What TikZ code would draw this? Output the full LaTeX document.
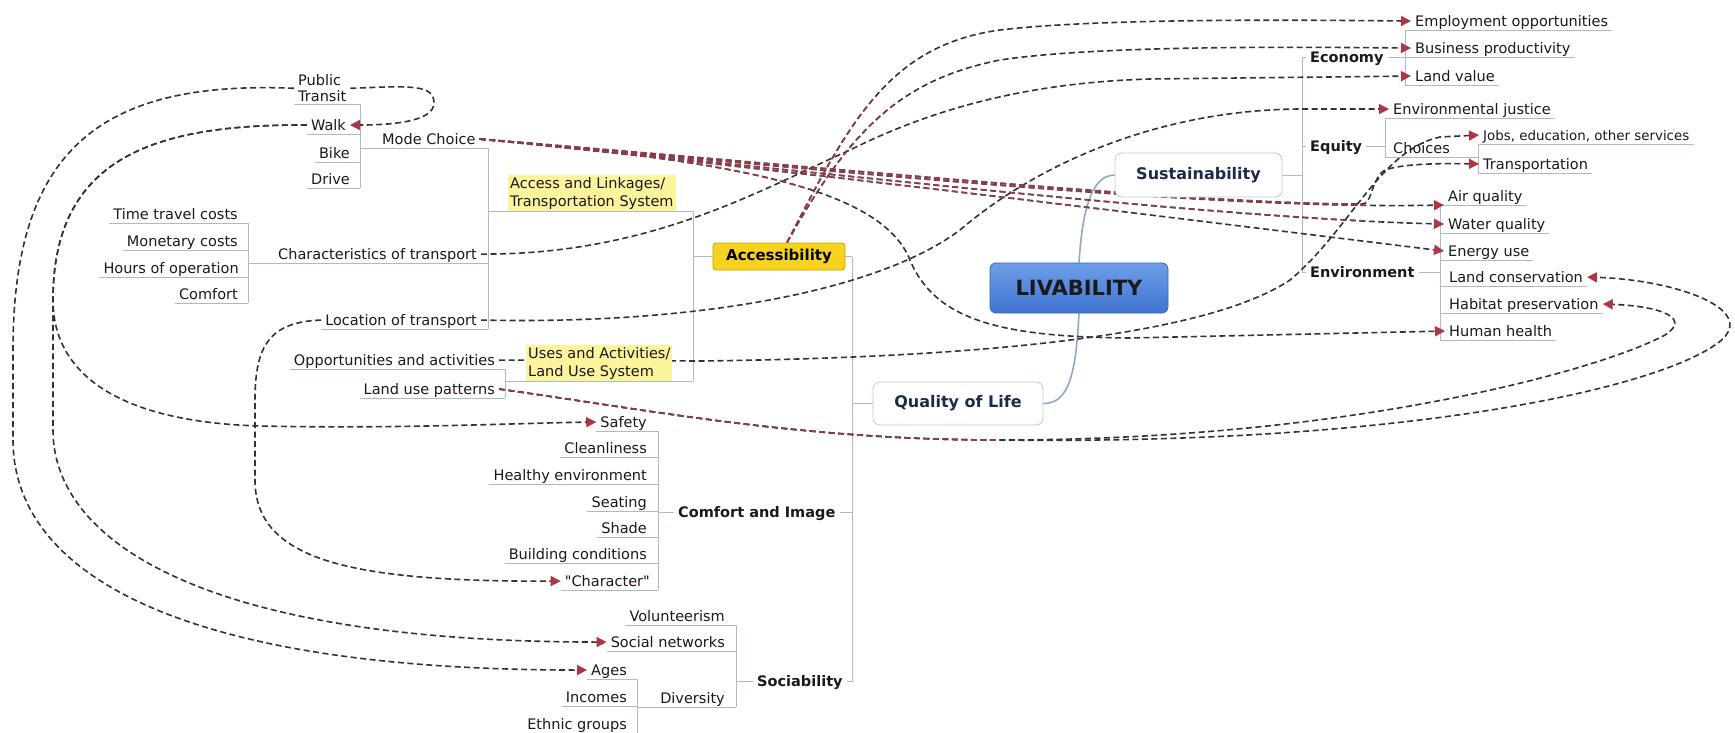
\documentclass[tikz,border=0pt]{standalone}
\usepackage{fontspec}
\setmainfont{DejaVu Sans}
\usetikzlibrary{arrows.meta}
\definecolor{relc}{HTML}{333333}
\definecolor{arrc}{HTML}{B03444}
\definecolor{bundc}{HTML}{8E3A48}
\definecolor{treec}{HTML}{A9BAD3}
\definecolor{hl}{HTML}{FBF49C}
\definecolor{accf}{HTML}{F7D21E}
\definecolor{accd}{HTML}{C9A200}
\definecolor{boxc}{HTML}{B9C9E0}
\definecolor{navy}{HTML}{1C2B4A}
\definecolor{txt}{HTML}{1A1A1A}
\definecolor{livt}{HTML}{6E9FE8}
\definecolor{livb}{HTML}{3F74D0}
\definecolor{livd}{HTML}{3565B5}
\definecolor{trunkc}{HTML}{8FA8CC}
\pgfdeclarelayer{bg}
\pgfsetlayers{bg,main}
\tikzset{
  tp/.style={font=\fontsize{14.5}{17}\selectfont, text=txt, inner xsep=4pt, inner ysep=3.5pt, text height=10.5pt, text depth=0pt},
  bt/.style={tp, font=\fontsize{14.5}{17}\selectfont\bfseries},
  ptx/.style={font=\fontsize{14.5}{16}\selectfont, text=txt, align=left, inner xsep=4pt, inner ysep=2pt},
  hlbox/.style={fill=hl, align=left, inner xsep=2pt, inner ysep=2pt, font=\fontsize{14.5}{18}\selectfont, text=txt},
  topbox/.style={draw=boxc, fill=white, rounded corners=7pt, line width=0.8pt, font=\fontsize{16}{18}\selectfont\bfseries, text=navy},
  treeline/.style={draw=treec, line width=0.8pt},
  trunk/.style={draw=trunkc, line width=1.6pt},
  rel/.style={draw=relc, line width=1.6pt, dash pattern=on 6pt off 3.5pt},
  bund/.style={draw=bundc, line width=1.6pt, dash pattern=on 6pt off 3.5pt},
  rtip/.style={-{Triangle[length=10pt,width=10pt,color=arrc]}},
}
\begin{document}
\begin{tikzpicture}[x=1pt,y=-1pt]
\useasboundingbox (0,0) rectangle (1735,733);

% ---------------- left: Access and Linkages ----------------
\node[ptx, anchor=north west] (public) at (294,72.5) {Public\\Transit};
\node[tp, anchor=south east] (walk) at (350,134) {Walk};
\node[tp, anchor=south east] (bike) at (354,162) {Bike};
\node[tp, anchor=south east] (drive) at (354,188) {Drive};
\node[tp, anchor=south west] (mode) at (378,148) {Mode Choice};
\node[tp, anchor=south east] (time) at (242,223) {Time travel costs};
\node[tp, anchor=south east] (money) at (242,250) {Monetary costs};
\node[tp, anchor=south east] (hours) at (243,277) {Hours of operation};
\node[tp, anchor=south east] (comfort) at (242,303) {Comfort};
\node[tp, anchor=south east] (char) at (481,263) {Characteristics of transport};
\node[tp, anchor=south east] (loc) at (481,329) {Location of transport};
\node[hlbox, anchor=north west] (acl) at (508,175) {Access and Linkages/\\Transportation System};
\node[hlbox, anchor=north west] (uses) at (526,345) {Uses and Activities/\\Land Use System};
\node[tp, anchor=south east] (opp) at (499,369) {Opportunities and activities};
\node[tp, anchor=south east] (landuse) at (499,398) {Land use patterns};
\node[draw=accd, fill=accf, line width=0.8pt, rounded corners=3pt, minimum width=132pt, minimum height=27pt, inner sep=2pt, font=\fontsize{15}{17}\selectfont\bfseries, text=black] (acc) at (779,256.5) {Accessibility};

% ---------------- Comfort and Image ----------------
\node[tp, anchor=south east] (safety) at (651,431) {Safety};
\node[tp, anchor=south east] (clean) at (651,457) {Cleanliness};
\node[tp, anchor=south east] (healthy) at (651,484) {Healthy environment};
\node[tp, anchor=south east] (seating) at (651,511) {Seating};
\node[tp, anchor=south east] (shade) at (651,537) {Shade};
\node[tp, anchor=south east] (building) at (651,563) {Building conditions};
\node[tp, anchor=south east] (character) at (654,590) {\textquotedbl Character\textquotedbl};
\node[bt, anchor=south west] (cimg) at (674,521.5) {Comfort and Image};

% ---------------- Sociability ----------------
\node[tp, anchor=south east] (volunteer) at (729,625) {Volunteerism};
\node[tp, anchor=south east] (social) at (729,651) {Social networks};
\node[tp, anchor=south east] (ages) at (631,679) {Ages};
\node[tp, anchor=south east] (incomes) at (631,706) {Incomes};
\node[tp, anchor=south east] (ethnic) at (631,733) {Ethnic groups};
\node[tp, anchor=south east] (div) at (729,707) {Diversity};
\node[bt, anchor=south west] (soc) at (753,690.5) {Sociability};

% ---------------- centre ----------------
\node[topbox, minimum width=170pt, minimum height=43pt] (qol) at (958,403.5) {Quality of Life};
\node[topbox, minimum width=167pt, minimum height=44pt] (sus) at (1198.5,175) {Sustainability};
\node[draw=livd, line width=0.8pt, rounded corners=6pt, top color=livt, bottom color=livb, minimum width=178pt, minimum height=50pt, font=\fontsize{21}{24}\selectfont\bfseries, text=txt] (liv) at (1079,288) {LIVABILITY};

% ---------------- right: Sustainability ----------------
\node[bt, anchor=south west] (econ) at (1306,66.5) {Economy};
\node[bt, anchor=south west] (equity) at (1306,155.5) {Equity};
\node[bt, anchor=south west] (env) at (1306,281.5) {Environment};
\node[tp, anchor=south west] (employ) at (1411,30) {Employment opportunities};
\node[tp, anchor=south west] (business) at (1411,57) {Business productivity};
\node[tp, anchor=south west] (landval) at (1411,85) {Land value};
\node[tp, anchor=south west] (envjust) at (1389,118) {Environmental justice};
\node[tp, anchor=south west] (choices) at (1389,157) {Choices};
\node[tp, anchor=south west, font=\fontsize{13.4}{16}\selectfont] (jobs) at (1479,144) {Jobs, education, other services};
\node[tp, anchor=south west] (transp) at (1479,173) {Transportation};
\node[tp, anchor=south west] (air) at (1444,205) {Air quality};
\node[tp, anchor=south west] (water) at (1444,233) {Water quality};
\node[tp, anchor=south west] (energy) at (1444,260) {Energy use};
\node[tp, anchor=south west] (landcons) at (1445,286) {Land conservation};
\node[tp, anchor=south west] (habitat) at (1445,313) {Habitat preservation};
\node[tp, anchor=south west] (health) at (1445,340) {Human health};

% bracket positions
\coordinate (bm) at (360,0);
\coordinate (bc) at (248,0);
\coordinate (ba) at (488,0);
\coordinate (bacc) at (693,0);
\coordinate (bu) at (505,0);
\coordinate (bq) at (852,0);
\coordinate (bci) at (658,0);
\coordinate (bs) at (736,0);
\coordinate (bd) at (637,0);
\coordinate (bsu) at (1302,0);
\coordinate (be) at (1405,0);
\coordinate (beq) at (1385,0);
\coordinate (bch) at (1478,0);
\coordinate (ben) at (1440,0);

\begin{pgfonlayer}{bg}
\fill[white] (0,0) rectangle (1735,733);
% ---------- tree lines ----------
\draw[treeline] (public.south west) -- (public.south -| bm);
\draw[treeline] (walk.south west) -- (walk.south -| bm);
\draw[treeline] (bike.south west) -- (bike.south -| bm);
\draw[treeline] (drive.south west) -- (drive.south -| bm);
\draw[treeline] (public.south -| bm) -- (drive.south -| bm);
\draw[treeline] (mode.south -| bm) -- (mode.south -| ba);
\draw[treeline] (time.south west) -- (time.south -| bc);
\draw[treeline] (money.south west) -- (money.south -| bc);
\draw[treeline] (hours.south west) -- (hours.south -| bc);
\draw[treeline] (comfort.south west) -- (comfort.south -| bc);
\draw[treeline] (time.south -| bc) -- (comfort.south -| bc);
\draw[treeline] (char.south -| bc) -- (char.south -| ba);
\draw[treeline] (loc.south west) -- (loc.south -| ba);
\draw[treeline] (mode.south -| ba) -- (loc.south -| ba);
\draw[treeline] (acl.south -| ba) -- (acl.south -| bacc);
\draw[treeline] (acl.south -| bacc) -- (uses.south -| bacc);
\draw[treeline] (acc.west) -- (acc.west -| bacc);
\draw[treeline] (opp.south west) -- (opp.south -| bu);
\draw[treeline] (landuse.south west) -- (landuse.south -| bu);
\draw[treeline] (opp.south -| bu) -- (landuse.south -| bu);
\draw[treeline] (uses.south -| bu) -- (uses.south -| bacc);
\draw[treeline] (acc.east) -- (acc.east -| bq);
\draw[treeline] (acc.east -| bq) -- (soc.east -| bq);
\draw[treeline] (qol.west) -- (qol.west -| bq);
\draw[treeline] (cimg.east) -- (cimg.east -| bq);
\draw[treeline] (soc.east) -- (soc.east -| bq);
\foreach \n in {safety,clean,healthy,seating,shade,building,character}
  \draw[treeline] (\n.south west) -- (\n.south -| bci);
\draw[treeline] (safety.south -| bci) -- (character.south -| bci);
\draw[treeline] (cimg.west) -- (cimg.west -| bci);
\draw[treeline] (volunteer.south west) -- (volunteer.south -| bs);
\draw[treeline] (social.south west) -- (social.south -| bs);
\draw[treeline] (div.south -| bd) -- (div.south -| bs);
\draw[treeline] (volunteer.south -| bs) -- (div.south -| bs);
\draw[treeline] (soc.west) -- (soc.west -| bs);
\foreach \n in {ages,incomes,ethnic}
  \draw[treeline] (\n.south west) -- (\n.south -| bd);
\draw[treeline] (ages.south -| bd) -- (ethnic.south -| bd);
% right side
\draw[treeline] (sus.east) -- (sus.east -| bsu);
\draw[treeline] (econ.west -| bsu) -- (env.west -| bsu);
\draw[treeline] (econ.west -| bsu) -- (econ.west);
\draw[treeline] (equity.west -| bsu) -- (equity.west);
\draw[treeline] (env.west -| bsu) -- (env.west);
\draw[treeline] (econ.east) -- (econ.east -| be);
\foreach \n in {employ,business,landval}
  \draw[treeline] (\n.south -| be) -- (\n.south east);
\draw[treeline] (employ.south -| be) -- (landval.south -| be);
\draw[treeline] (equity.east) -- (equity.east -| beq);
\draw[treeline] (envjust.south -| beq) -- (envjust.south east);
\draw[treeline] (choices.south -| beq) -- (choices.south -| bch);
\draw[treeline] (envjust.south -| beq) -- (choices.south -| beq);
\draw[treeline] (jobs.south -| bch) -- (jobs.south east);
\draw[treeline] (transp.south -| bch) -- (transp.south east);
\draw[treeline] (jobs.south -| bch) -- (transp.south -| bch);
\draw[treeline] (env.east) -- (env.east -| ben);
\foreach \n in {air,water,energy,landcons,habitat,health}
  \draw[treeline] (\n.south -| ben) -- (\n.south east);
\draw[treeline] (air.south -| ben) -- (health.south -| ben);
% trunk
\draw[trunk] (liv.north) .. controls (1082,215) and (1090,175) .. (sus.west);
\draw[trunk] (liv.south) .. controls (1076,370) and (1070,404) .. (qol.east);

% ---------- relationships ----------
\draw[rel,rtip] (public.east) .. controls (410,86) and (434,84) .. (434,103) .. controls (434,122) and (390,125) .. (walk.east);
\draw[rel,rtip] (public.west) .. controls (100,80) and (13,150) .. (13,350) -- (13,440) .. controls (13,560) and (150,670) .. (ages.west);
\draw[rel,rtip] (walk.west) .. controls (150,124) and (53,160) .. (53,300) .. controls (53,375) and (120,422) .. (260,426) .. controls (400,429) and (520,423) .. (safety.west);
\draw[rel,rtip] (walk.west) .. controls (150,124) and (53,160) .. (53,300) -- (53,430) .. controls (53,540) and (200,642) .. (social.west);
\draw[rel,rtip] (loc.west) .. controls (270,322) and (255,345) .. (255,400) -- (255,480) .. controls (255,560) and (350,582) .. (character.west);
% mode choice
\draw[rel,rtip] (mode.east) .. controls (800,165) and (1200,205) .. (1362,204) .. controls (1372,204) and (1370,185) .. (1382,172) .. controls (1392,164) and (1440,163) .. (transp.west);
\draw[rel,rtip] (mode.east) .. controls (800,167) and (1200,210) .. (air.south west);
\draw[rel,rtip] (mode.east) .. controls (800,169) and (1200,218) .. (water.west);
\draw[rel,rtip] (mode.east) .. controls (800,171) and (1150,215) .. (energy.west);
\draw[rel,rtip] (mode.east) .. controls (720,160) and (880,185) .. (910,260) .. controls (935,320) and (1000,337) .. (1130,338) -- (health.west);
% accessibility
\draw[rel,rtip] ([xshift=8pt]acc.north) .. controls (850,120) and (890,45) .. (1000,30) .. controls (1100,18) and (1300,20) .. (employ.west);
\draw[rel,rtip] ([xshift=8pt]acc.north) .. controls (850,130) and (900,80) .. (1000,60) .. controls (1100,45) and (1300,47) .. (business.west);
% characteristics, location
\draw[rel,rtip] (char.east) .. controls (650,255) and (760,190) .. (850,150) .. controls (950,100) and (1050,82) .. (1150,79) -- (landval.west);
\draw[rel,rtip] (loc.east) .. controls (700,325) and (880,290) .. (960,230) .. controls (1030,170) and (1150,110) .. (1300,109) -- (envjust.west);
% opportunities
\draw[rel,rtip] (opp.east) -- (700,361) .. controls (950,358) and (1200,340) .. (1290,280) .. controls (1350,230) and (1380,150) .. (1440,137) -- (jobs.west);
% land use
\draw[rel,rtip] (landuse.east) .. controls (650,410) and (800,440) .. (1000,440) .. controls (1400,445) and (1650,390) .. (1715,345) .. controls (1765,312) and (1680,280) .. (landcons.east);
\draw[rel,rtip] (landuse.east) .. controls (650,410) and (800,440) .. (1000,440) .. controls (1350,440) and (1600,370) .. (1665,335) .. controls (1692,318) and (1660,306) .. (habitat.east);

% reddish overlapped bundles
\begin{scope}
\clip (470,118) -- (1000,168) -- (1365,188) -- (1365,222) -- (1000,205) -- (470,160) -- cycle;
\draw[bund] (mode.east) .. controls (800,165) and (1200,205) .. (1362,204);
\draw[bund] (mode.east) .. controls (800,167) and (1200,210) .. (air.south west);
\draw[bund] (mode.east) .. controls (800,169) and (1200,218) .. (water.west);
\draw[bund] (mode.east) .. controls (800,171) and (1150,215) .. (energy.west);
\draw[bund] (mode.east) .. controls (720,160) and (880,185) .. (910,260);
\end{scope}
\begin{scope}
\clip (495,378) -- (1000,425) -- (1000,458) -- (495,405) -- cycle;
\draw[bund] (landuse.east) .. controls (650,410) and (800,440) .. (1000,440);
\end{scope}
\begin{scope}
\clip (770,245) -- (775,95) -- (893,95) -- (893,245) -- cycle;
\draw[bund] ([xshift=8pt]acc.north) .. controls (850,120) and (890,45) .. (1000,30);
\draw[bund] ([xshift=8pt]acc.north) .. controls (850,130) and (900,80) .. (1000,60);
\end{scope}
\end{pgfonlayer}
\end{tikzpicture}
\end{document}
